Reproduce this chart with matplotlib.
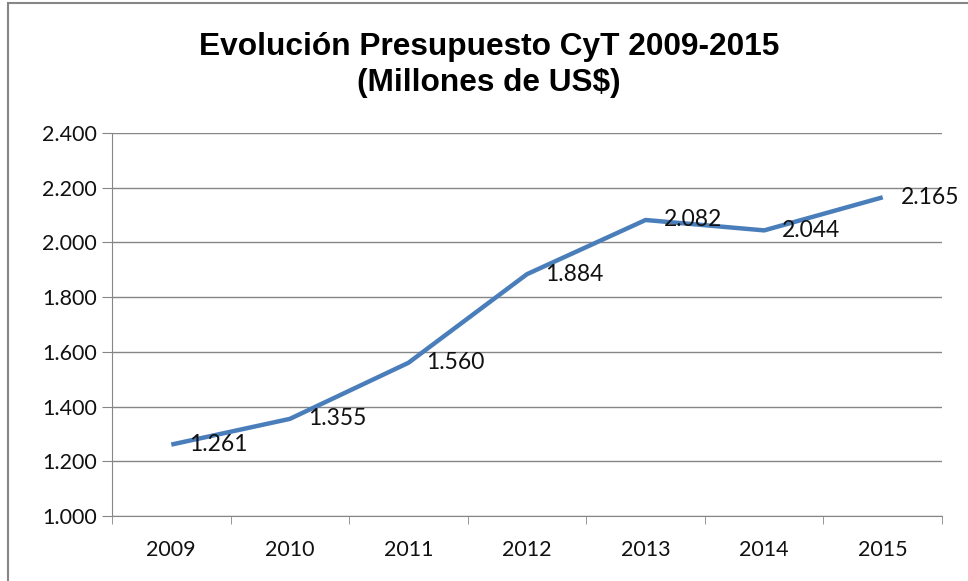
import matplotlib.pyplot as plt
from matplotlib.ticker import FuncFormatter
from matplotlib.patches import Rectangle

years = ['2009', '2010', '2011', '2012', '2013', '2014', '2015']
budget = [1261, 1355, 1560, 1884, 2082, 2044, 2165]
y_ticks = [1000, 1200, 1400, 1600, 1800, 2000, 2200, 2400]


def miles(v, pos=None):
    return f'{int(v):,}'.replace(',', '.')


fig = plt.figure(figsize=(9.68, 5.81), dpi=100)
fig.patches.append(Rectangle((8 / 968, -0.1), 1.2, (578) / 581 + 0.1, transform=fig.transFigure,
                             fill=False, edgecolor='#868686', linewidth=1.5))

ax = fig.add_axes([112 / 968, 1 - 516 / 581, 830 / 968, 383 / 581])
x = list(range(len(years)))
ax.plot(x, budget, color='#4a7ebb', linewidth=3.2, solid_capstyle='butt')

for xi, v in zip(x, budget):
    ax.annotate(miles(v), (xi, v), xytext=(18, 0), textcoords='offset pixels',
                ha='left', va='center', fontsize=16.5, family='Lato', color='#111111')

ax.set_xlim(-0.5, len(years) - 0.5)
ax.set_ylim(1000, 2400)
ax.set_yticks(y_ticks)
ax.yaxis.set_major_formatter(FuncFormatter(miles))
ax.set_xticks(x)
ax.set_xticklabels(years)
ax.set_xticks([i - 0.5 for i in range(len(years) + 1)], minor=True)
ax.tick_params(axis='x', which='major', length=0, pad=17)
ax.tick_params(axis='x', which='minor', length=6, color='#868686', direction='out')
ax.tick_params(axis='y', length=7, color='#868686', pad=4)
for lbl in ax.get_xticklabels() + ax.get_yticklabels():
    lbl.set_family('Lato')
    lbl.set_fontsize(15.5)
    lbl.set_color('#111111')

ax.grid(axis='y', color='#868686', linewidth=1)
ax.set_axisbelow(True)
for side in ['top', 'right']:
    ax.spines[side].set_visible(False)
ax.spines['left'].set_color('#868686')
ax.spines['bottom'].set_color('#868686')

fig.text(489 / 968, 1 - 65 / 581, 'Evolución Presupuesto CyT 2009-2015\n(Millones de US$)',
         ha='center', va='center', fontsize=22.8, fontweight='bold', family='Liberation Sans',
         linespacing=1.25)

fig.savefig('out.png', dpi=100)
